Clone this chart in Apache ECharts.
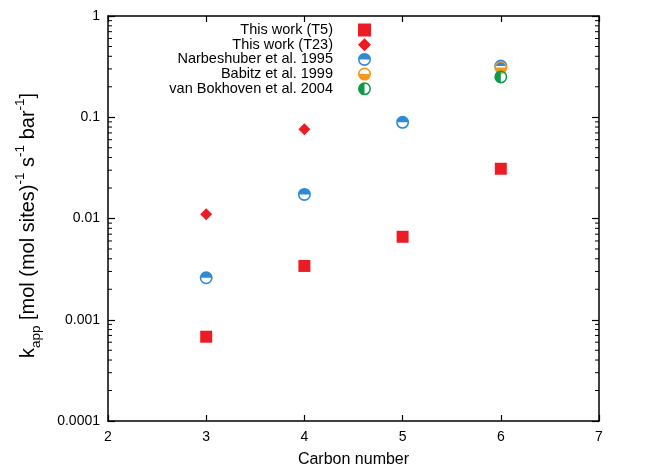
<!DOCTYPE html>
<html>
<head>
<meta charset="utf-8">
<script src="https://cdn.jsdelivr.net/npm/echarts@6/dist/echarts.min.js"></script>
<style>
  html, body { margin: 0; padding: 0; background: #fff; }
  #chart { width: 648px; height: 465px; }
</style>
</head>
<body>
<div id="chart"></div>
<script>
// data
const carbonT5 = [3, 4, 5, 6];
const kT5 = [0.00068, 0.0034, 0.0066, 0.031];
const carbonT23 = [3, 4];
const kT23 = [0.011, 0.076];
const carbonNarb = [3, 4, 5, 6];
const kNarb = [0.0026, 0.0173, 0.089, 0.32];
const carbonBabitz = [6];
const kBabitz = [0.31];
const carbonVanB = [6];
const kVanB = [0.25];
const yTickLabels = ['0.0001', '0.001', '0.01', '0.1', '1'];
const xTickLabels = ['2', '3', '4', '5', '6', '7'];

const FONT = '"Liberation Sans", Arial, Helvetica, sans-serif';

// ring + half disk symbols
const ring = 'M0 50 A50 50 0 1 1 100 50 A50 50 0 1 1 0 50 Z M12 50 A38 38 0 1 0 88 50 A38 38 0 1 0 12 50 Z';
const halfTop = 'path://' + ring + ' M12 50 A38 38 0 0 1 88 50 Z';
const halfBottom = 'path://' + ring + ' M88 50 A38 38 0 0 1 12 50 Z';
const halfLeft = 'path://' + ring + ' M50 88 A38 38 0 0 1 50 12 Z';

// minor tick positions of the log axis (2..9 per decade)
const minorTicks = [];
for (let e = -4; e < 0; e++) {
    for (let m = 2; m <= 9; m++) minorTicks.push([m * Math.pow(10, e)]);
}

const zip = (xs, ys) => xs.map((x, i) => [x, ys[i]]);

const chart = echarts.init(document.getElementById('chart'));
chart.setOption({
    animation: false,
    textStyle: { fontFamily: FONT },
    grid: { left: 108, right: 49, top: 16, bottom: 44, outerBoundsMode: 'none', containLabel: false },
    legend: {
        orient: 'vertical',
        right: 277,
        top: 22.5,
        padding: 0,
        align: 'right',
        itemWidth: 13,
        itemHeight: 13,
        itemGap: -0.3,
        textStyle: { fontSize: 14.5, color: '#000', fontFamily: FONT, padding: [0, 20, 0, 0] },
        data: ['This work (T5)', 'This work (T23)', 'Narbeshuber et al. 1995', 'Babitz et al. 1999', 'van Bokhoven et al. 2004']
    },
    xAxis: [{
        type: 'value', min: 2, max: 7, interval: 1,
        name: 'Carbon number', nameLocation: 'middle', nameGap: 31,
        nameTextStyle: { fontSize: 16, color: '#000', fontFamily: FONT },
        axisLine: { lineStyle: { color: '#000', width: 1.5 } },
        axisTick: { inside: true, length: 6, lineStyle: { color: '#000', width: 1.2 } },
        axisLabel: { fontSize: 14, color: '#000', margin: 9, formatter: v => xTickLabels[Math.round(v) - 2] },
        splitLine: { show: false }
    }, {
        type: 'value', min: 2, max: 7, interval: 1, position: 'top',
        axisLine: { lineStyle: { color: '#000', width: 1.5 } },
        axisTick: { inside: true, length: 6, lineStyle: { color: '#000', width: 1.2 } },
        axisLabel: { show: false },
        splitLine: { show: false }
    }],
    yAxis: [{
        type: 'log', logBase: 10, min: 0.0001, max: 1,
        name: '{n|k}{sub|app}{n| [mol (mol sites)}{sup|-1}{n| s}{sup|-1}{n| bar}{sup|-1}{end|]}',
        nameLocation: 'middle', nameGap: 65, nameRotate: 90,
        nameTextStyle: {
            color: '#000', fontFamily: FONT,
            rich: {
                n: { fontSize: 20, lineHeight: 30, verticalAlign: 'middle', color: '#000', fontFamily: FONT },
                end: { fontSize: 20, lineHeight: 30, verticalAlign: 'middle', color: '#000', fontFamily: FONT, padding: [0, 14, 0, 0] },
                sub: { fontSize: 13.5, lineHeight: 30, verticalAlign: 'bottom', color: '#000', fontFamily: FONT },
                sup: { fontSize: 13.5, lineHeight: 30, verticalAlign: 'top', color: '#000', fontFamily: FONT }
            }
        },
        axisLine: { lineStyle: { color: '#000', width: 1.5 } },
        axisTick: { inside: true, length: 7, lineStyle: { color: '#000', width: 1.2 } },
        axisLabel: { fontSize: 14, color: '#000', margin: 8, formatter: v => yTickLabels[Math.round(Math.log10(v)) + 4] },
        splitLine: { show: false }
    }, {
        type: 'log', logBase: 10, min: 0.0001, max: 1, position: 'right',
        axisLine: { lineStyle: { color: '#000', width: 1.5 } },
        axisTick: { inside: true, length: 7, lineStyle: { color: '#000', width: 1.2 } },
        axisLabel: { show: false },
        splitLine: { show: false }
    }],
    series: [{
        type: 'custom',
        silent: true,
        data: minorTicks,
        encode: { x: -1, y: 0 },
        renderItem: (params, api) => {
            const v = api.value(0);
            const l = api.coord([2, v]);
            const r = api.coord([7, v]);
            const st = { stroke: '#000', lineWidth: 1 };
            return {
                type: 'group',
                children: [
                    { type: 'line', shape: { x1: l[0], y1: l[1], x2: l[0] + 4, y2: l[1] }, style: st },
                    { type: 'line', shape: { x1: r[0], y1: r[1], x2: r[0] - 4, y2: r[1] }, style: st }
                ]
            };
        },
        clip: false,
        z: 1
    }, {
        name: 'This work (T5)', type: 'scatter', symbol: 'rect', symbolSize: 12,
        itemStyle: { color: '#ec1c24', opacity: 1 },
        data: zip(carbonT5, kT5)
    }, {
        name: 'This work (T23)', type: 'scatter', symbol: 'diamond', symbolSize: 12,
        itemStyle: { color: '#ec1c24', opacity: 1 },
        data: zip(carbonT23, kT23)
    }, {
        name: 'Narbeshuber et al. 1995', type: 'scatter', symbol: halfTop, symbolSize: 13,
        itemStyle: { color: '#2f8ad6', opacity: 1 },
        data: zip(carbonNarb, kNarb)
    }, {
        name: 'Babitz et al. 1999', type: 'scatter', symbol: halfBottom, symbolSize: 13,
        itemStyle: { color: '#f5961f', opacity: 1 },
        data: zip(carbonBabitz, kBabitz)
    }, {
        name: 'van Bokhoven et al. 2004', type: 'scatter', symbol: halfLeft, symbolSize: 13,
        itemStyle: { color: '#0f9a48', opacity: 1 },
        data: zip(carbonVanB, kVanB)
    }]
});
</script>
</body>
</html>
